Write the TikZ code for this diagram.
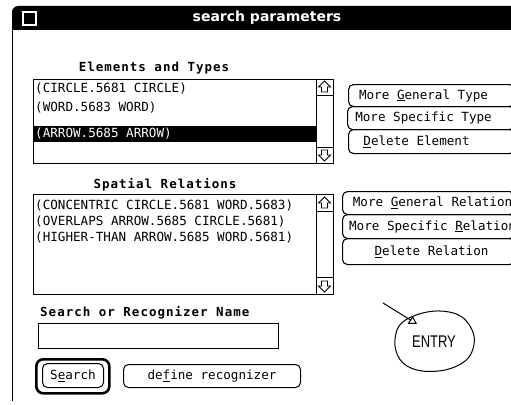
\documentclass[tikz,border=0pt]{standalone}
\usepackage{fontspec}
\setmainfont{DejaVu Sans}
\newfontfamily\monaco{DejaVu Sans Mono}
\newfontfamily\heading[LetterSpace=8]{DejaVu Sans Mono}
\newfontfamily\hand{Liberation Sans}
\usetikzlibrary{arrows.meta}

% keyboard shortcut letter
\newcommand\hot[1]{\underline{#1}}
% scroll arrows, centred on #1
\newcommand\arrowup[1]{\draw[line width=.9pt,shift={#1}] (0,-6) -- (6,0) -- (3,0) -- (3,5) -- (-3,5) -- (-3,0) -- (-6,0) -- cycle;}
\newcommand\arrowdown[1]{\draw[line width=.9pt,shift={#1}] (0,6) -- (6,0) -- (3,0) -- (3,-5) -- (-3,-5) -- (-3,0) -- (-6,0) -- cycle;}

\tikzset{
  ln/.style={line width=1pt},
  box/.style={draw,ln,anchor=north west,inner sep=0pt},
  listtxt/.style={font=\monaco\fontsize{12.6}{14}\selectfont,anchor=west,inner sep=0pt},
  head/.style={font=\heading\bfseries\fontsize{12.5}{14}\selectfont,inner sep=0pt},
  btn/.style={draw,line width=1.1pt,rounded corners=5pt,anchor=north west,inner sep=0pt,
    font=\monaco\fontsize{12.6}{14}\selectfont},
  btntxt/.style={font=\monaco\fontsize{12.6}{14}\selectfont,inner sep=0pt},
}

\begin{document}
\begin{tikzpicture}[x=1pt,y=-1pt]
\useasboundingbox (0,0) rectangle (511,404);
\clip (0,0) rectangle (511,404);

% window frame and title bar
\fill (12,30) [rounded corners=6pt] -- (12,6) [sharp corners] -- (520,6) -- (520,30) -- cycle;
\draw[white,line width=1.4pt] (23,12) rectangle (36,25);
\node[font=\bfseries\fontsize{14}{16}\selectfont,text=white,inner sep=0pt] (title) at (267,18) {search parameters};
\draw[ln] (12,30) -- (12,401);

% elements and types
\node[head] (elemhead) at (154,68) {Elements and Types};
\node[box,minimum width=300,minimum height=84] (elemlist) at (33,79) {};
\fill (33,126) rectangle (316,142);
\node[listtxt] (circle) at (35,89) {(CIRCLE.5681 CIRCLE)};
\node[listtxt] (word) at (35,108) {(WORD.5683 WORD)};
\node[listtxt,text=white] (arrow) at (35,134) {(ARROW.5685 ARROW)};
\draw[ln] (316,79) -- (316,163);
\draw[ln] (316,95) -- (333,95);
\draw[ln] (316,147) -- (333,147);
\arrowup{(324.5,87)}
\arrowdown{(324.5,155)}

\node[btn,minimum width=166,minimum height=22,
  label={[btntxt,xshift=-8pt]center:More \hot{G}eneral Type}] (gentype) at (348,84) {};
\node[btn,minimum width=167,minimum height=23,
  label={[btntxt,xshift=-7.5pt]center:More Specific Type}] (spectype) at (347,106) {};
\node[btn,minimum width=166,minimum height=24,
  label={[btntxt,xshift=-15pt]center:\hot{D}elete Element}] (delelem) at (348,129) {};

% spatial relations
\node[head] (relhead) at (165,185) {Spatial Relations};
\node[box,minimum width=300,minimum height=100] (rellist) at (33,194) {};
\node[listtxt] (concentric) at (35,206) {(CONCENTRIC CIRCLE.5681 WORD.5683)};
\node[listtxt] (overlaps) at (35,222) {(OVERLAPS ARROW.5685 CIRCLE.5681)};
\node[listtxt] (higher) at (35,238) {(HIGHER-THAN ARROW.5685 WORD.5681)};
\draw[ln] (316,194) -- (316,294);
\draw[ln] (316,211) -- (333,211);
\draw[ln] (316,277) -- (333,277);
\arrowup{(324.5,203)}
\arrowdown{(324.5,286)}

\node[btn,minimum width=172,minimum height=23,
  label={[btntxt,xshift=4pt]center:More \hot{G}eneral Relation}] (genrel) at (342,191) {};
\node[btn,minimum width=172,minimum height=24,
  label={[btntxt,xshift=4pt]center:More Specific \hot{R}elation}] (specrel) at (342,214) {};
\node[btn,minimum width=172,minimum height=26,
  label={[btntxt,xshift=3pt]center:\hot{D}elete Relation}] (delrel) at (342,238) {};

% name field and buttons
\node[head,anchor=west] (namehead) at (40,313) {Search or Recognizer Name};
\node[box,minimum width=240,minimum height=25] (namefield) at (38,323) {};
\node[draw,line width=2.6pt,rounded corners=7pt,anchor=north west,
  minimum width=73,minimum height=34] (searchring) at (35,358) {};
\node[btn,line width=1pt,minimum width=61,minimum height=24] (search) at (42,363) {S\hot{e}arch};
\node[btn,line width=1pt,minimum width=177,minimum height=23] (define) at (123,364) {de\hot{f}ine recognizer};

% scribbled note
\node[font=\hand\fontsize{13}{15}\selectfont,inner sep=0pt] (entry) at (434,342) {\scalebox{1}[1.3]{ENTRY}};
\draw[line width=1pt] plot[smooth cycle,tension=.6] coordinates {(395,346) (399,326) (416,315) (440,311) (462,317) (474,336) (469,357) (449,369) (422,371) (403,363)};
\coordinate (scrib) at (383,303);
\coordinate (scribtip) at (417,324);
\draw[line width=1pt,-{Triangle[open,length=8pt,width=9pt]}] (scrib) -- (scribtip);
\end{tikzpicture}
\end{document}
